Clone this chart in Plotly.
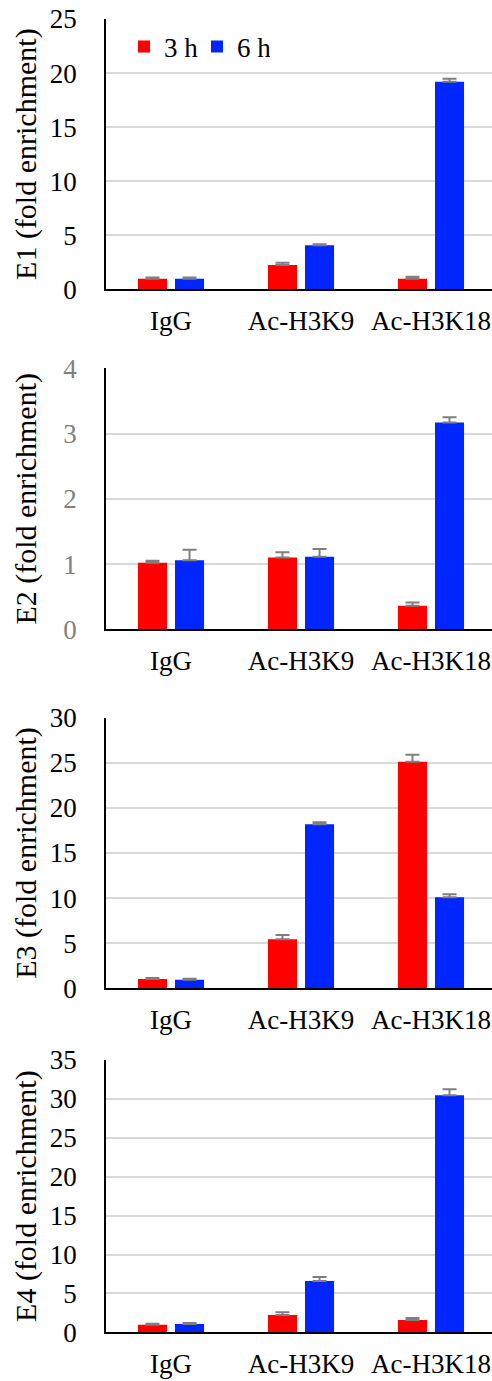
import plotly.graph_objects as go

# ---------------- data ----------------
categories = ["IgG", "Ac-H3K9", "Ac-H3K18"]
series_names = ["3 h", "6 h"]
series_colors = ["#ff0000", "#0026ff"]

panel_titles = ["E1 (fold enrichment)", "E2 (fold enrichment)",
                "E3 (fold enrichment)", "E4 (fold enrichment)"]

e1_3h = [0.98, 2.25, 0.98]
e1_3h_err = [0.12, 0.20, 0.17]
e1_6h = [0.98, 4.07, 19.20]
e1_6h_err = [0.10, 0.10, 0.28]

e2_3h = [1.02, 1.10, 0.36]
e2_3h_err = [0.03, 0.08, 0.05]
e2_6h = [1.06, 1.11, 3.17]
e2_6h_err = [0.16, 0.12, 0.08]

e3_3h = [1.03, 5.43, 25.12]
e3_3h_err = [0.11, 0.47, 0.78]
e3_6h = [0.96, 18.18, 10.09]
e3_6h_err = [0.11, 0.22, 0.33]

e4_3h = [0.98, 2.22, 1.58]
e4_3h_err = [0.13, 0.35, 0.26]
e4_6h = [1.07, 6.60, 30.46]
e4_6h_err = [0.13, 0.50, 0.77]

y_max = [25, 4, 30, 35]
y_step = [5, 1, 5, 5]
tick_colors = ["#000000", "#808080", "#000000", "#000000"]

panels = [
    [(e1_3h, e1_3h_err), (e1_6h, e1_6h_err)],
    [(e2_3h, e2_3h_err), (e2_6h, e2_6h_err)],
    [(e3_3h, e3_3h_err), (e3_6h, e3_6h_err)],
    [(e4_3h, e4_3h_err), (e4_6h, e4_6h_err)],
]

# ---------------- layout constants ----------------
W, H = 492, 1381
FONT = "Liberation Serif"
plot_left = 106
cat_px = 130
# (top, bottom) pixel rows of each plot area
panel_px = [(19, 289.3), (368.3, 629.3), (717.7, 988.3), (1060, 1332.3)]

fig = go.Figure()

for i, series in enumerate(panels):
    ax = "" if i == 0 else str(i + 1)
    for j, (vals, errs) in enumerate(series):
        fig.add_trace(go.Bar(
            x=categories, y=vals, name=series_names[j],
            marker=dict(color=series_colors[j], line=dict(width=0)),
            error_y=dict(type="data", array=errs, arrayminus=[0] * len(errs),
                         symmetric=False, color="#7f7f7f", thickness=2, width=7),
            xaxis="x" + ax, yaxis="y" + ax,
            showlegend=(i == 0), legendgroup=series_names[j],
        ))

    top, bot = panel_px[i]
    dom_y = [1 - bot / H, 1 - top / H]
    x_span = (W - plot_left) / cat_px
    fig.layout["xaxis" + ax] = dict(
        domain=[plot_left / W, 1], range=[-0.5, -0.5 + x_span],
        anchor="y" + ax, showline=True, linecolor="#000000", linewidth=2,
        showgrid=False, ticks="", ticklabelstandoff=6, automargin=False,
        tickfont=dict(family=FONT, size=27, color="#000000"),
        fixedrange=True,
    )
    standoff = 4 if y_max[i] >= 10 else 18
    fig.layout["yaxis" + ax] = dict(
        domain=dom_y, range=[0, y_max[i]], dtick=y_step[i], tick0=0,
        anchor="x" + ax, showline=True, linecolor="#000000", linewidth=1.5,
        showgrid=True, gridcolor="#d9d9d9", gridwidth=1.5, zeroline=False,
        ticks="", ticklabelstandoff=22, automargin=False,
        tickfont=dict(family=FONT, size=27, color=tick_colors[i]),
        title=dict(text=panel_titles[i], font=dict(family=FONT, size=30, color="#000000"),
                   standoff=standoff),
        fixedrange=True,
    )

fig.update_layout(
    width=W, height=H,
    margin=dict(l=0, r=0, t=0, b=0, autoexpand=False),
    paper_bgcolor="#ffffff", plot_bgcolor="#ffffff",
    barmode="group", bargap=0.43, bargroupgap=0.216,
    font=dict(family=FONT, size=27, color="#000000"),
    legend=dict(orientation="h", x=124 / W, xanchor="left",
                y=1 - 47 / H, yanchor="middle",
                font=dict(family=FONT, size=27, color="#000000"),
                bgcolor="rgba(0,0,0,0)", itemwidth=30, tracegroupgap=0,
                entrywidth=28, entrywidthmode="pixels"),
)

fig.write_html("out.html", config={"displayModeBar": False},
               post_script="document.body.style.margin='0';")
